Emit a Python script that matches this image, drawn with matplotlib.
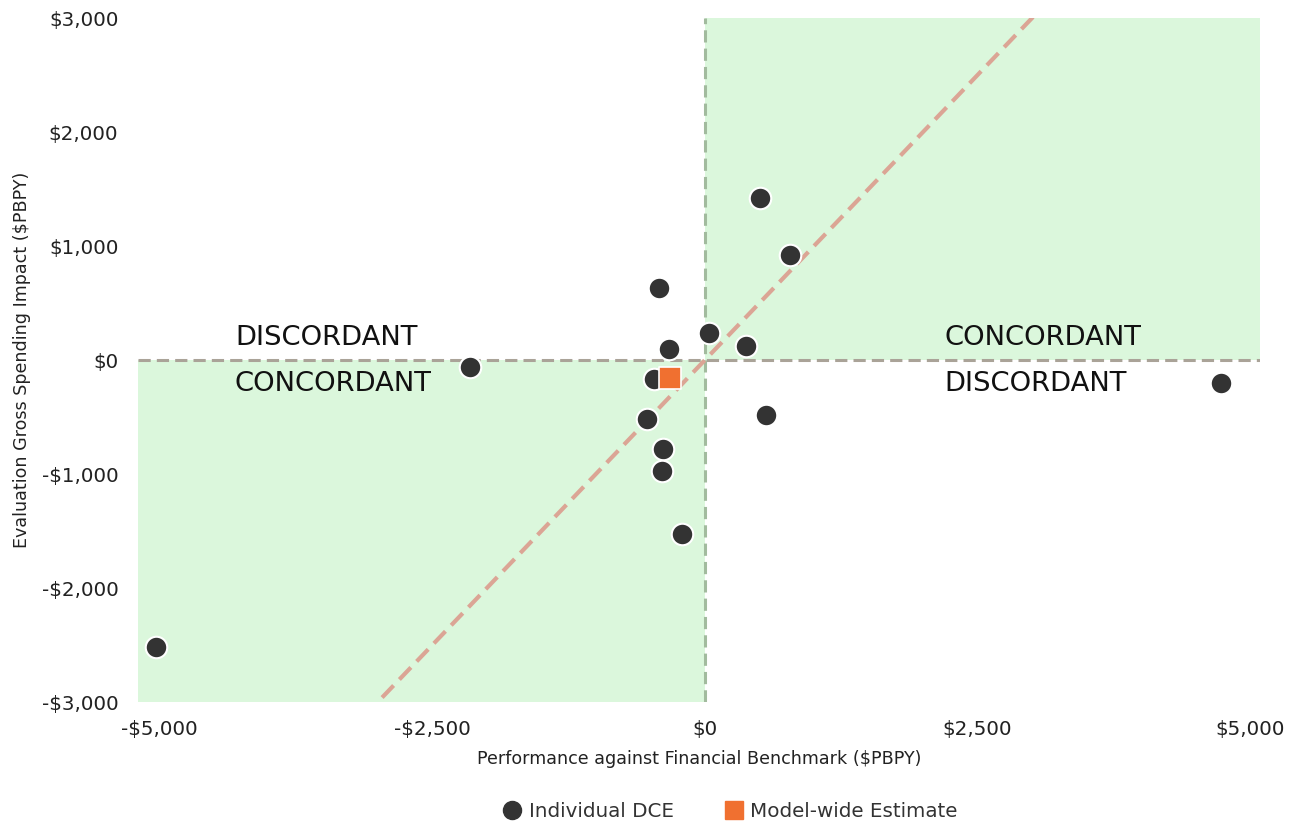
import matplotlib.pyplot as plt
from matplotlib.ticker import FuncFormatter
from matplotlib.lines import Line2D

plt.rcParams['font.family'] = ['DejaVu Sans']

# DCE results: performance vs. financial benchmark and evaluation impact ($PBPY)
dce_benchmark = [-5030, -2150, -420, -330, -470, -530, -380, -390, -210,
                 40, 380, 510, 780, 560, 4730]
dce_impact = [-2520, -60, 630, 100, -170, -520, -780, -970, -1530,
              240, 120, 1420, 920, -480, -200]

model_benchmark = [-320]
model_impact = [-160]

x_ticks = [-5000, -2500, 0, 2500, 5000]
y_ticks = [-3000, -2000, -1000, 0, 1000, 2000, 3000]
x_lim = (-5200, 5090)
y_lim = (-3000, 3000)


def dollars(v, pos=None):
    if v < 0:
        return '-${:,.0f}'.format(-v)
    return '${:,.0f}'.format(v)


fig = plt.figure(figsize=(12.94, 8.23), dpi=100)
ax = fig.add_axes([0.1066, 0.147, 0.867, 0.831])

# shaded concordant quadrants
green = '#dbf7dc'
ax.fill_between([0, x_lim[1]], 0, y_lim[1], color=green, lw=0, zorder=0)
ax.fill_between([x_lim[0], 0], y_lim[0], 0, color=green, lw=0, zorder=0)

ax.axhline(0, color='#aaa398', ls=(0, (4, 2)), lw=2.2, zorder=1)
ax.axvline(0, color='#a2bb9e', ls=(0, (4, 2)), lw=2.2, zorder=1)

# 1:1 line
ax.plot(x_lim, x_lim, color='#dba595', ls=(0, (4, 2)), lw=3, zorder=2)

ax.scatter(dce_benchmark, dce_impact, s=240, color='#333333',
           edgecolor='white', linewidth=1.5, zorder=3)
ax.scatter(model_benchmark, model_impact, s=270, marker='s', color='#f07030',
           edgecolor='white', linewidth=1.2, zorder=4)

tkw = dict(fontsize=19.7, color='#111111', va='center', ha='left')
ax.text(-4310, 190, 'DISCORDANT', **tkw)
ax.text(-4310, -210, 'CONCORDANT', **tkw)
ax.text(2200, 190, 'CONCORDANT', **tkw)
ax.text(2200, -210, 'DISCORDANT', **tkw)

ax.set_xlim(x_lim)
ax.set_ylim(y_lim)
ax.set_xticks(x_ticks)
ax.set_yticks(y_ticks)
ax.xaxis.set_major_formatter(FuncFormatter(dollars))
ax.yaxis.set_major_formatter(FuncFormatter(dollars))
ax.tick_params(axis='x', length=0, labelsize=14.3, colors='#222222', pad=13)
ax.tick_params(axis='y', length=0, labelsize=14.3, colors='#222222', pad=14)
for s in ax.spines.values():
    s.set_visible(False)

ax.set_xlabel('Performance against Financial Benchmark ($PBPY)', fontsize=12.6,
              color='#222222', labelpad=8)
ax.set_ylabel('Evaluation Gross Spending Impact ($PBPY)', fontsize=12.6,
              color='#222222', labelpad=8)

handles = [
    Line2D([], [], marker='o', ls='', color='#333333', markersize=13,
           label='Individual DCE'),
    Line2D([], [], marker='s', ls='', color='#f07030', markersize=13,
           label='Model-wide Estimate'),
]
fig.legend(handles=handles, loc='center', bbox_to_anchor=(0.563, 0.014),
           ncol=2, frameon=False, fontsize=14.3, labelcolor='#333333',
           handlelength=1.3, handletextpad=0.2, columnspacing=2.35)

fig.savefig('out.png', dpi=100)
